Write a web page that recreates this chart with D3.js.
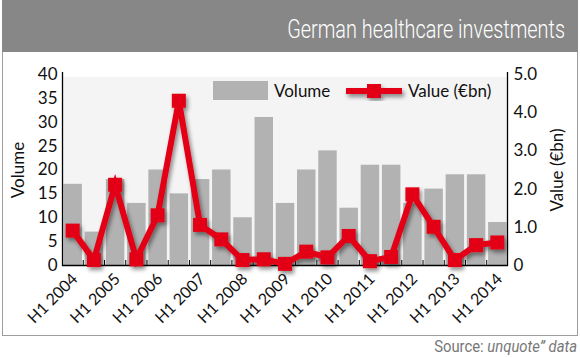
<!DOCTYPE html>
<html>
<head>
<meta charset="utf-8">
<script src="https://cdn.jsdelivr.net/npm/d3@7"></script>
<style>
  body { margin: 0; background: #fff; }
  svg text { font-family: Lato, "Open Sans", sans-serif; }
  .cond { font-family: Roboto, "Liberation Sans", sans-serif; }
</style>
</head>
<body>
<div id="chart"></div>
<script>
var categories = ["H1 2004", "H2 2004", "H1 2005", "H2 2005", "H1 2006", "H2 2006", "H1 2007", "H2 2007",
  "H1 2008", "H2 2008", "H1 2009", "H2 2009", "H1 2010", "H2 2010", "H1 2011", "H2 2011",
  "H1 2012", "H2 2012", "H1 2013", "H2 2013", "H1 2014"];
var volume = [17, 7, 18, 13, 20, 15, 18, 20, 10, 31, 13, 20, 24, 12, 21, 21, 13, 16, 19, 19, 9];
var value = [0.9, 0.13, 2.1, 0.15, 1.3, 4.3, 1.05, 0.67, 0.13, 0.15, 0.03, 0.35, 0.2, 0.76, 0.1, 0.21, 1.85, 1.0, 0.13, 0.52, 0.59];
var volumeTicks = [0, 5, 10, 15, 20, 25, 30, 35, 40];
var valueTicks = [0, 1, 2, 3, 4, 5];

var width = 580, height = 358;
var plot = { left: 63, right: 507, top: 74, bottom: 265 };
var red = "#e30613";

var svg = d3.select("#chart").append("svg")
    .attr("width", width)
    .attr("height", height);

var defs = svg.append("defs");
var shadow = defs.append("filter").attr("id", "shadow")
    .attr("x", "-20%").attr("y", "-20%").attr("width", "140%").attr("height", "140%");
shadow.append("feDropShadow")
    .attr("dx", 2).attr("dy", 3).attr("stdDeviation", 2)
    .attr("flood-color", "#000").attr("flood-opacity", 0.45);

// squeeze a text horizontally so it fits a given width (condensed look)
function condense(sel, rightX, y, targetW) {
  var w = sel.node().getComputedTextLength();
  var k = targetW / w;
  sel.attr("x", 0).attr("y", 0)
    .attr("transform", "translate(" + rightX + "," + y + ") scale(" + k + ",1)");
}

// frame + header
svg.append("rect")
    .attr("x", 2.5).attr("y", 0.5).attr("width", 575).attr("height", 335)
    .attr("fill", "#fff").attr("stroke", "#9d9d9d");
svg.append("rect")
    .attr("x", 2).attr("y", 0).attr("width", 576).attr("height", 52)
    .attr("fill", "#878787");
var title = svg.append("text")
    .attr("class", "cond")
    .attr("text-anchor", "end")
    .attr("fill", "#fff")
    .style("font-size", "26px")
    .style("font-weight", 300)
    .text("German healthcare investments");
condense(title, 565, 38, 278);

var source = svg.append("text")
    .attr("class", "cond")
    .attr("text-anchor", "end")
    .attr("fill", "#777")
    .style("font-size", "16px");
source.append("tspan").text("Source: ");
source.append("tspan").style("font-style", "italic").text("unquote\u201D data");
condense(source, 577, 352, 143);

var x = d3.scaleBand()
    .domain(categories)
    .range([plot.left, plot.right])
    .paddingInner(0.13)
    .paddingOuter(0.02);

var yL = d3.scaleLinear().domain([0, 40]).range([plot.bottom, plot.top]);
var yR = d3.scaleLinear().domain([0, 5]).range([plot.bottom, plot.top]);

svg.append("rect")
    .attr("x", plot.left).attr("y", 77)
    .attr("width", plot.right - plot.left).attr("height", plot.bottom - 77)
    .attr("fill", "#f4f4f4");

// bars
svg.append("g").selectAll("rect")
    .data(volume)
    .enter().append("rect")
    .attr("x", function(d, i) { return x(categories[i]); })
    .attr("y", function(d) { return yL(d); })
    .attr("width", x.bandwidth())
    .attr("height", function(d) { return yL(0) - yL(d); })
    .attr("fill", "#b2b2b2");

// axes
var leftAxis = svg.append("g")
    .attr("transform", "translate(" + (plot.left - 0.5) + ",0)")
    .call(d3.axisLeft(yL).tickValues(volumeTicks).tickSize(0).tickPadding(5));
leftAxis.select(".domain").remove();
leftAxis.append("line").attr("x1", 0).attr("x2", 0).attr("y1", 72).attr("y2", plot.bottom + 1)
    .attr("stroke", "#000").attr("stroke-width", 1.3);

var rightAxis = svg.append("g")
    .attr("transform", "translate(" + (plot.right + 0.5) + ",0)")
    .call(d3.axisRight(yR).tickValues(valueTicks).tickSize(0).tickPadding(6)
      .tickFormat(function(d) { return d === 0 ? "0" : d3.format(".1f")(d); }));
rightAxis.select(".domain").remove();
rightAxis.append("line").attr("x1", 0).attr("x2", 0).attr("y1", 72).attr("y2", plot.bottom + 1)
    .attr("stroke", "#000").attr("stroke-width", 1.3);

svg.selectAll(".tick text")
    .attr("fill", "#111")
    .style("font-size", "17px");

// bottom axis: boundary ticks pointing up
var step = x.step();
var bounds = d3.range(1, categories.length).map(function(i) { return x(categories[i]) - x.paddingInner() * step / 2; });
var bottom = svg.append("g");
bottom.append("line")
    .attr("x1", plot.left - 1).attr("x2", plot.right + 1)
    .attr("y1", plot.bottom + 0.5).attr("y2", plot.bottom + 0.5)
    .attr("stroke", "#000").attr("stroke-width", 1.5);
bottom.selectAll(".btick")
    .data(bounds)
    .enter().append("line")
    .attr("class", "btick")
    .attr("x1", function(d) { return d; }).attr("x2", function(d) { return d; })
    .attr("y1", plot.bottom - 5).attr("y2", plot.bottom)
    .attr("stroke", "#000").attr("stroke-width", 1);

svg.append("g").selectAll("text")
    .data(categories.filter(function(d) { return d.indexOf("H1") === 0; }))
    .enter().append("text")
    .attr("transform", function(d) {
      return "translate(" + (x(d) + x.bandwidth() / 2 + 6) + "," + (plot.bottom + 15) + ") rotate(-45)";
    })
    .attr("text-anchor", "end")
    .attr("fill", "#111")
    .style("font-size", "16px")
    .text(function(d) { return d; });

// axis titles
svg.append("text")
    .attr("transform", "translate(24,170) rotate(-90)")
    .attr("text-anchor", "middle")
    .attr("fill", "#111")
    .style("font-size", "17px")
    .text("Volume");
svg.append("text")
    .attr("transform", "translate(563,170) rotate(-90)")
    .attr("text-anchor", "middle")
    .attr("fill", "#111")
    .style("font-size", "17px")
    .text("Value (\u20ACbn)");

// value line
var cx = function(d, i) { return x(categories[i]) + x.bandwidth() / 2; };
var line = d3.line()
    .x(cx)
    .y(function(d) { return yR(d); });

var series = svg.append("g").attr("filter", "url(#shadow)");
series.append("path")
    .datum(value)
    .attr("d", line)
    .attr("fill", "none")
    .attr("stroke", red)
    .attr("stroke-width", 6)
    .attr("stroke-linejoin", "miter");
series.selectAll("rect")
    .data(value)
    .enter().append("rect")
    .attr("x", function(d, i) { return cx(d, i) - 7; })
    .attr("y", function(d) { return yR(d) - 7; })
    .attr("width", 14).attr("height", 14)
    .attr("fill", red);

// legend
var legend = svg.append("g");
legend.append("rect")
    .attr("x", 213).attr("y", 81).attr("width", 55).attr("height", 19)
    .attr("fill", "#b2b2b2");
legend.append("text")
    .attr("x", 274).attr("y", 97)
    .attr("fill", "#111")
    .style("font-size", "17px")
    .text("Volume");
var lg = legend.append("g").attr("filter", "url(#shadow)");
lg.append("line")
    .attr("x1", 346).attr("x2", 402).attr("y1", 91).attr("y2", 91)
    .attr("stroke", red).attr("stroke-width", 6);
lg.append("rect")
    .attr("x", 367).attr("y", 84).attr("width", 14).attr("height", 14)
    .attr("fill", red);
legend.append("text")
    .attr("x", 408).attr("y", 97)
    .attr("fill", "#111")
    .style("font-size", "17px")
    .text("Value (\u20ACbn)");
</script>
</body>
</html>
